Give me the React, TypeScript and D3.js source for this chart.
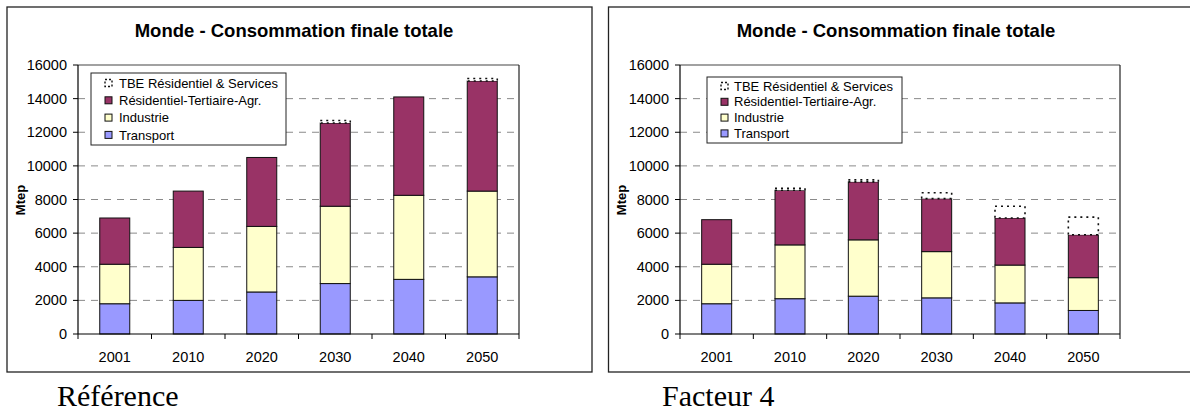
import React from "react";
import * as d3 from "d3";

const years = ["2001", "2010", "2020", "2030", "2040", "2050"];
const yTicks = [0, 2000, 4000, 6000, 8000, 10000, 12000, 14000, 16000];
const legendNames = [
  "TBE Résidentiel & Services",
  "Résidentiel-Tertiaire-Agr.",
  "Industrie",
  "Transport",
];

// Référence scenario (Mtep)
const refTransport = [1800, 2000, 2500, 3000, 3250, 3400];
const refIndustrie = [2350, 3150, 3900, 4600, 5000, 5100];
const refResid = [2750, 3350, 4100, 4950, 5850, 6550];
const refTBE = [0, 0, 0, 150, 0, 150];

// Facteur 4 scenario (Mtep)
const f4Transport = [1800, 2100, 2250, 2150, 1850, 1400];
const f4Industrie = [2350, 3200, 3350, 2750, 2250, 1950];
const f4Resid = [2650, 3250, 3450, 3150, 2800, 2550];
const f4TBE = [0, 120, 120, 350, 700, 1050];

const COLORS: Record<string, string> = {
  transport: "#9999FF",
  industrie: "#FFFFCC",
  resid: "#993366",
  tbe: "#FFFFFF",
};

const SANS = "'Liberation Sans', Arial, sans-serif";
const SERIF = "'Liberation Serif', 'Times New Roman', serif";

type PanelProps = {
  frameX: number;
  plotX0: number;
  plotX1: number;
  titleX: number;
  mtepX: number;
  legend: { x: number; y: number; w: number; h: number; mx: number; tx: number; r0: number; step: number };
  caption: string;
  captionX: number;
  transport: number[];
  industrie: number[];
  resid: number[];
  tbe: number[];
};

function Panel(p: PanelProps) {
  const y0 = 65;
  const y1 = 334;
  const y = d3.scaleLinear().domain([0, 16000]).range([y1, y0]);
  const x = d3.scaleBand<string>().domain(years).range([p.plotX0, p.plotX1]).padding(0);
  const step = x.step();
  const bw = 30;

  const rows = years.map((yr, i) => ({
    year: yr,
    transport: p.transport[i],
    industrie: p.industrie[i],
    resid: p.resid[i],
    tbe: p.tbe[i],
  }));
  const keys = ["transport", "industrie", "resid", "tbe"];
  const stacked = d3.stack<any>().keys(keys)(rows);

  const legendKeys = ["tbe", "resid", "industrie", "transport"];

  return (
    <g>
      {/* frame */}
      <rect x={p.frameX} y={7} width={585} height={365} fill="#fff" stroke="#222" strokeWidth={1.3} />
      {/* title */}
      <text x={p.titleX} y={36.5} textAnchor="middle" fontFamily={SANS} fontWeight="bold" fontSize={18.5} fill="#000">
        Monde - Consommation finale totale
      </text>
      {/* gridlines */}
      {yTicks.filter((t) => t > 0 && t < 16000).map((t) => (
        <line key={"g" + t} x1={p.plotX0} x2={p.plotX1} y1={y(t)} y2={y(t)} stroke="#8a8a8a" strokeWidth={1} strokeDasharray="7,6" />
      ))}
      {/* plot top & right border */}
      <line x1={p.plotX0} x2={p.plotX1} y1={y0} y2={y0} stroke="#444" strokeWidth={1.2} />
      <line x1={p.plotX1} x2={p.plotX1} y1={y0} y2={y1} stroke="#222" strokeWidth={1.2} />
      {/* bars */}
      {stacked.map((s) =>
        s.map((d, i) => {
          const v = d[1] - d[0];
          if (v <= 0) return null;
          const bx = (x(years[i]) as number) + (step - bw) / 2;
          const isTbe = s.key === "tbe";
          return (
            <rect
              key={s.key + i}
              x={bx}
              y={y(d[1])}
              width={bw}
              height={y(d[0]) - y(d[1])}
              fill={COLORS[s.key]}
              stroke="#111"
              strokeWidth={isTbe ? 1.6 : 1}
              strokeDasharray={isTbe ? "2,4" : undefined}
            />
          );
        })
      )}
      {/* y axis */}
      <line x1={p.plotX0} x2={p.plotX0} y1={y0} y2={y1} stroke="#000" strokeWidth={1.2} />
      {yTicks.map((t) => (
        <g key={"yt" + t}>
          <line x1={p.plotX0 - 5} x2={p.plotX0} y1={y(t)} y2={y(t)} stroke="#000" strokeWidth={1} />
          <text x={p.plotX0 - 11} y={y(t) + 5} textAnchor="end" fontFamily={SANS} fontSize={14.5} fill="#000">
            {t}
          </text>
        </g>
      ))}
      {/* x axis */}
      <line x1={p.plotX0} x2={p.plotX1} y1={y1} y2={y1} stroke="#000" strokeWidth={1.2} />
      {years.map((yr) => (
        <g key={"xt" + yr}>
          <line x1={(x(yr) as number) + step} x2={(x(yr) as number) + step} y1={y1} y2={y1 + 5} stroke="#000" strokeWidth={1} />
          <text x={(x(yr) as number) + step / 2} y={361.5} textAnchor="middle" fontFamily={SANS} fontSize={14.5} fill="#000">
            {yr}
          </text>
        </g>
      ))}
      <line x1={p.plotX0} x2={p.plotX0} y1={y1} y2={y1 + 5} stroke="#000" strokeWidth={1} />
      {/* Mtep label */}
      <text
        transform={`translate(${p.mtepX},200) rotate(-90)`}
        textAnchor="middle"
        fontFamily={SANS}
        fontWeight="bold"
        fontSize={13}
        fill="#000"
      >
        Mtep
      </text>
      {/* legend */}
      <rect x={p.legend.x} y={p.legend.y} width={p.legend.w} height={p.legend.h} fill="#fff" stroke="#222" strokeWidth={1} />
      {legendKeys.map((k, i) => {
        const cy = p.legend.r0 + i * p.legend.step;
        const isTbe = k === "tbe";
        return (
          <g key={"lg" + k}>
            <rect
              x={p.legend.mx}
              y={cy - 3.5}
              width={7}
              height={7}
              fill={COLORS[k]}
              stroke="#111"
              strokeWidth={isTbe ? 1.4 : 1}
              strokeDasharray={isTbe ? "2,2" : undefined}
            />
            <text x={p.legend.tx} y={cy + 4.6} fontFamily={SANS} fontSize={13} fill="#000">
              {legendNames[i]}
            </text>
          </g>
        );
      })}
      {/* caption */}
      <text x={p.captionX} y={406} fontFamily={SERIF} fontSize={30} fill="#000">
        {p.caption}
      </text>
    </g>
  );
}

export default function App() {
  return (
    <div style={{ position: "absolute", left: 0, top: 0 }}>
      <svg width={1190} height={415} style={{ display: "block", background: "#fff" }}>
        <Panel
          frameX={7}
          plotX0={78}
          plotX1={519}
          titleX={294}
          mtepX={24.5}
          legend={{ x: 91, y: 73, w: 195, h: 72, mx: 105, tx: 119, r0: 83, step: 17.3 }}
          caption="Référence"
          captionX={57}
          transport={refTransport}
          industrie={refIndustrie}
          resid={refResid}
          tbe={refTBE}
        />
        <Panel
          frameX={608.5}
          plotX0={680}
          plotX1={1120}
          titleX={896}
          mtepX={625.5}
          legend={{ x: 707, y: 77, w: 195, h: 66, mx: 721, tx: 734, r0: 86, step: 15.8 }}
          caption="Facteur 4"
          captionX={662}
          transport={f4Transport}
          industrie={f4Industrie}
          resid={f4Resid}
          tbe={f4TBE}
        />
      </svg>
    </div>
  );
}
